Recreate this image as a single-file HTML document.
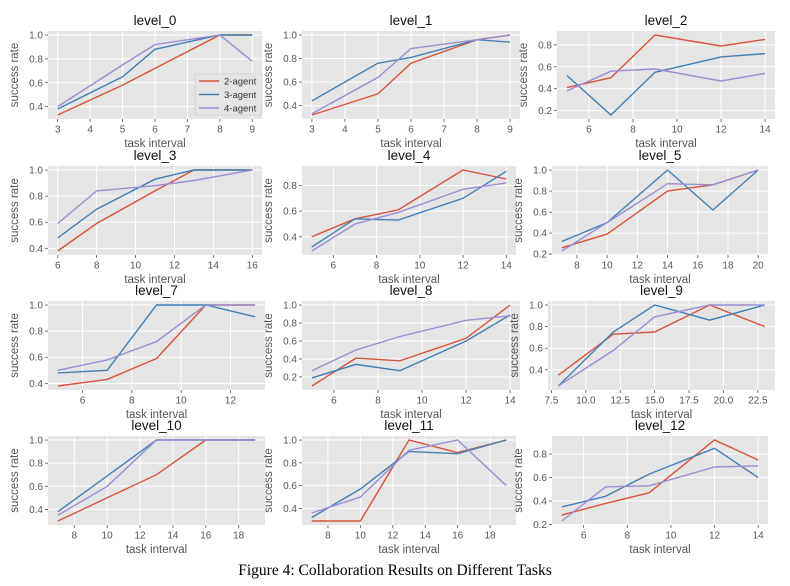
<!DOCTYPE html>
<html><head><meta charset="utf-8"><style>
body{margin:0;background:#fff;}
svg{display:block;font-family:"Liberation Sans",sans-serif;}
</style></head><body>
<svg id="fig" width="790" height="586" xmlns="http://www.w3.org/2000/svg"></svg>
<script>
const titles=["level_0","level_1","level_2","level_3","level_4","level_5","level_7","level_8","level_9","level_10","level_11","level_12"];
const xs=[[3,5,6,8,9],[3,5,6,8,9],[5,7,9,12,14],[6,8,11,13,16],[5,7,9,12,14],[7,10,14,17,20],[5,7,9,11,13],[5,7,9,12,14],[8,12,15,19,23],[7,10,13,16,19],[7,10,13,16,19],[5,7,9,12,14]];
const agent2=[[.33,.58,.72,1,1],[.32,.50,.76,.96,1],[.41,.50,.89,.79,.85],[.38,.59,.84,1,1],[.40,.54,.61,.92,.85],[.26,.39,.80,.86,1],[.38,.43,.59,1,1],[.10,.41,.38,.63,1],[.35,.73,.75,1,.80],[.30,.50,.70,1,1],[.29,.29,1,.89,1],[.28,.38,.47,.92,.75]];
const agent3=[[.38,.65,.88,1,1],[.44,.76,.81,.96,.94],[.52,.16,.55,.69,.72],[.48,.70,.93,1,1],[.32,.54,.53,.70,.91],[.32,.50,1,.62,1],[.48,.50,1,1,.91],[.19,.34,.27,.60,.89],[.25,.75,1,.86,1],[.38,.69,1,1,1],[.32,.57,.90,.88,1],[.35,.44,.63,.85,.60]];
const agent4=[[.40,.75,.92,1,.78],[.33,.64,.885,.96,1],[.38,.56,.58,.47,.54],[.59,.84,.88,.92,1],[.29,.50,.59,.77,.82],[.23,.50,.87,.86,1],[.50,.58,.72,1,1],[.27,.50,.65,.83,.88],[.25,.58,.89,1,1],[.35,.60,1,1,1],[.36,.50,.91,1,.60],[.23,.52,.53,.69,.70]];
const xticks=[[3,4,5,6,7,8,9],[3,4,5,6,7,8,9],[6,8,10,12,14],[6,8,10,12,14,16],[6,8,10,12,14],[8,10,12,14,16,18,20],[6,8,10,12],[6,8,10,12,14],[7.5,10,12.5,15,17.5,20,22.5],[8,10,12,14,16,18],[8,10,12,14,16,18],[6,8,10,12,14]];
const yticks=[[.4,.6,.8,1],[.4,.6,.8,1],[.2,.4,.6,.8],[.4,.6,.8,1],[.4,.6,.8],[.2,.4,.6,.8,1],[.4,.6,.8,1],[.2,.4,.6,.8,1],[.4,.6,.8,1],[.4,.6,.8,1],[.4,.6,.8,1],[.2,.4,.6,.8]];
const seriesNames=["2-agent","3-agent","4-agent"];
const colors=["#D9553B","#4281B8","#9A8FD6"];
const boxes=[[48,262,31,119],[302,520,31,119],[557,775,31,119],[48,262,166,255],[302,516,166,255],[552,768,166,255],[48,265,301,390],[302,520,301,390],[548,775,301,390],[48,265,436,525],[302,516,436,525],[552,768,436,525]];
const NS="http://www.w3.org/2000/svg";
const svg=document.getElementById('fig');
function mk(tag,attrs,parent){const e=document.createElementNS(NS,tag);for(const k in attrs)e.setAttribute(k,attrs[k]);(parent||svg).appendChild(e);return e;}
function fmtX(v,ticks){return ticks.some(t=>t%1!==0)?v.toFixed(1):String(v);}
titles.forEach((t,i)=>{
  const [L,R,T,B]=boxes[i];
  const g=mk('g',{});
  
  
  const all=agent2[i].concat(agent3[i],agent4[i]);
  let ymin=Math.min(...all),ymax=Math.max(...all);const yp=(ymax-ymin)*0.05;ymin-=yp;ymax+=yp;
  let xmin=Math.min(...xs[i]),xmax=Math.max(...xs[i]);const xp=(xmax-xmin)*0.05;xmin-=xp;xmax+=xp;
  const X=v=>L+(v-xmin)/(xmax-xmin)*(R-L);
  const Y=v=>B-(v-ymin)/(ymax-ymin)*(B-T);
  const bg=mk('rect',{x:L,y:T,width:R-L,height:B-T,fill:'#E5E5E5'},g);
  
  
  xticks[i].forEach(v=>{const x=X(v);
    mk('line',{x1:x,x2:x,y1:T,y2:B,stroke:'#fff','stroke-width':1},g);
    mk('line',{x1:x,x2:x,y1:B,y2:B+3,stroke:'#555','stroke-width':0.8},g);
    const tx=mk('text',{x:x,y:B+13.5,'font-size':10,fill:'#555','text-anchor':'middle'},g);tx.textContent=fmtX(v,xticks[i]);
    
    });
  yticks[i].forEach(v=>{const y=Y(v);
    mk('line',{x1:L,x2:R,y1:y,y2:y,stroke:'#fff','stroke-width':1},g);
    mk('line',{x1:L-3,x2:L,y1:y,y2:y,stroke:'#555','stroke-width':0.8},g);
    const tx=mk('text',{x:L-5,y:y+3.5,'font-size':10,fill:'#555','text-anchor':'end'},g);tx.textContent=v.toFixed(1);
    
    });
  [agent2,agent3,agent4].forEach((s,k)=>{
    const pts=xs[i].map((x,j)=>X(x).toFixed(1)+','+Y(s[i][j]).toFixed(1)).join(' ');
    const pl=mk('polyline',{points:pts,fill:'none',stroke:colors[k],'stroke-width':1.4},g);
    
    
  });
  const ti=mk('text',{x:(L+R)/2,y:T-6,'font-size':13.5,fill:'#111','text-anchor':'middle'},g);ti.textContent=t;
  
  
  const xl=mk('text',{x:(L+R)/2,y:B+28,'font-size':11.5,fill:'#555','text-anchor':'middle'},g);xl.textContent='task interval';
  
  
  const yx=L-30,yy=(T+B)/2;
  const yl=mk('text',{x:yx,y:yy,'font-size':11.5,fill:'#555','text-anchor':'middle',transform:`rotate(-90 ${yx} ${yy})`},g);yl.textContent='success rate';
  
  
  if(i===0){
    const lg=mk('g',{},g);
    
    
    mk('rect',{x:195,y:74,width:67,height:41,fill:'#E5E5E5',stroke:'#ccc','stroke-width':0.8,rx:2},lg);
    seriesNames.forEach((n,k)=>{const y=81+k*13.5;
      mk('line',{x1:199,x2:219,y1:y,y2:y,stroke:colors[k],'stroke-width':1.4},lg);
      const tx=mk('text',{x:224,y:y+3.5,'font-size':9.5,fill:'#333'},lg);tx.textContent=n;
      
      });
  }
});
const cap=mk('text',{x:395,y:575,'font-size':15.5,fill:'#000','text-anchor':'middle','font-family':'"Liberation Serif",serif'});
cap.textContent='Figure 4: Collaboration Results on Different Tasks';


</script>
</body></html>
